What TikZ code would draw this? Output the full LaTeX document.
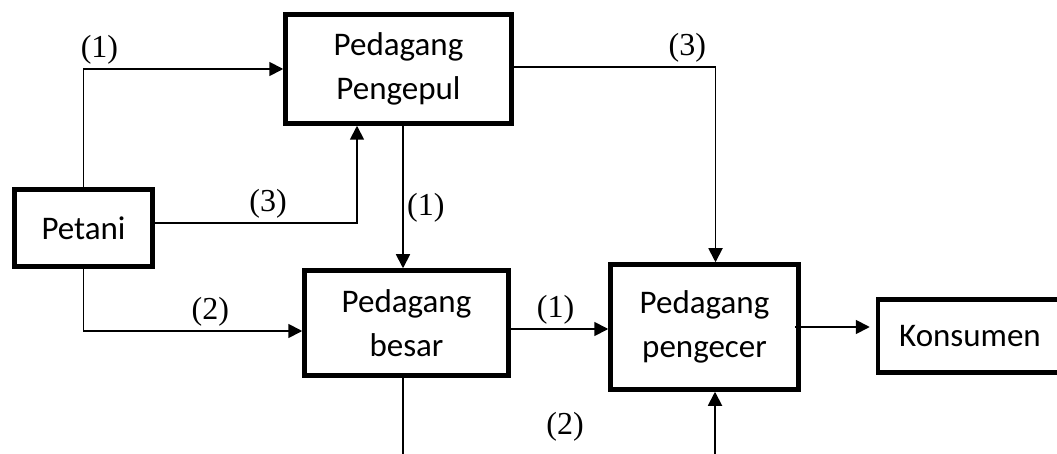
\documentclass[tikz,border=0pt]{standalone}
\usepackage{fontspec}
\setmainfont{Liberation Serif}
\newfontfamily\boxfont{Carlito}
\usepackage{tikz}
\usetikzlibrary{arrows.meta, positioning, calc}
\tikzset{
  box/.style   = {rectangle, draw, line width=4.5pt, align=center,
                  font=\boxfont\fontsize{33}{44}\selectfont},
  line/.style  = {line width=1.8pt},
  arrow/.style = {line width=1.8pt, -{Triangle[length=14pt, width=14pt]}},
  lbl/.style   = {font=\fontsize{32}{34}\selectfont},
}

\begin{document}
\begin{tikzpicture}[x=1pt, y=-1pt]

    \useasboundingbox (0,0) rectangle (1057,454);

    %% Boxes -- absolute positions
    \node[box, minimum width=138pt, minimum height=77pt]  (petani)   at (83.5, 228)  {Petani};
    \node[box, minimum width=226pt, minimum height=109pt] (pengepul) at (398.5, 69)  {Pedagang\\Pengepul};
    \node[box, minimum width=204pt, minimum height=105pt] (besar)    at (406.5, 323) {Pedagang\\besar};
    \node[box, minimum width=188pt, minimum height=125pt] (pengecer) at (704.5, 327) {Pedagang\\pengecer};
    \node[box, minimum width=184pt, minimum height=73pt]  (konsumen) at (970, 336)   {Konsumen};

    %% Loose ends at the bottom edge
    \coordinate (besarout) at (403, 454);
    \coordinate (ecerin)   at (715, 454);

    %% Arrows
    \draw[arrow] (petani.north) |- node[lbl, above, pos=0.54]{(1)} (pengepul.west);
    \draw[arrow] ([yshift=5pt]petani.east) -| node[lbl, above, pos=0.28]{(3)} ([xshift=-41.5pt]pengepul.south);
    \draw[arrow] (petani.south) |- node[lbl, above, pos=0.79]{(2)} ([yshift=-8pt]besar.west);
    \draw[arrow] ([xshift=4.5pt]pengepul.south) -- node[lbl, right, pos=0.575]{(1)} ([xshift=4.5pt]pengepul.south |- besar.north);
    \draw[arrow] ([yshift=2pt]pengepul.east) -| node[lbl, above, pos=0.43]{(3)} ([xshift=11pt]pengecer.north);
    \draw[arrow] ([yshift=-6pt]besar.east) -- node[lbl, above, pos=0.46]{(1)} ([yshift=-6pt]besar.east -| pengecer.west);
    \draw[arrow] ([xshift=-6pt]pengecer.east) -- ([xshift=-6pt]pengecer.east -| konsumen.west);
    \draw[line]  (besarout |- besar.south) -- (besarout);
    \draw[arrow] (ecerin) -- (ecerin |- pengecer.south);

    \node[lbl] (lbltwo) at (565, 427) {(2)};

  \end{tikzpicture}
\end{document}
